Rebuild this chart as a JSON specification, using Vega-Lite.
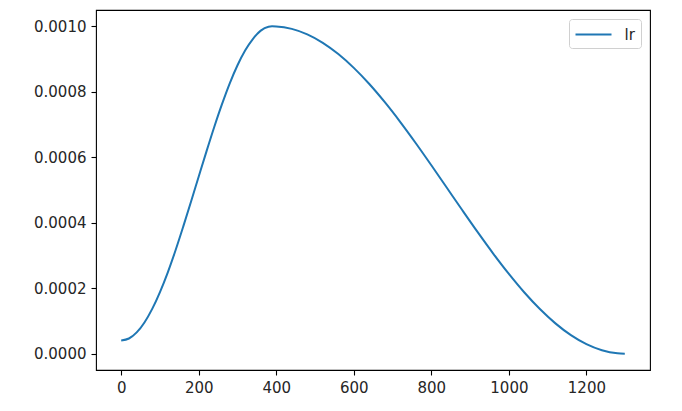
{
  "$schema": "https://vega.github.io/schema/vega-lite/v6.json",
  "width": 554,
  "height": 360,
  "autosize": {"type": "none"},
  "padding": {"left": 96, "top": 10, "right": 32, "bottom": 41},
  "background": "white",
  "config": {
    "view": {"stroke": "#000", "strokeWidth": 1.1},
    "axis": {
      "grid": false,
      "domain": false,
      "tickColor": "#000",
      "tickSize": 5,
      "tickWidth": 1.1,
      "labelFont": "DejaVu Sans",
      "labelFontSize": 15,
      "labelColor": "#262626",
      "labelPadding": 5,
      "title": null
    }
  },
  "data": {
    "values": [
      {"step": 0, "lr": 0.00004000, "series": "lr"},
      {"step": 20, "lr": 0.00004625, "series": "lr"},
      {"step": 40, "lr": 0.00006483, "series": "lr"},
      {"step": 60, "lr": 0.00009526, "series": "lr"},
      {"step": 80, "lr": 0.00013677, "series": "lr"},
      {"step": 100, "lr": 0.00018819, "series": "lr"},
      {"step": 120, "lr": 0.00024783, "series": "lr"},
      {"step": 140, "lr": 0.00031502, "series": "lr"},
      {"step": 160, "lr": 0.00038802, "series": "lr"},
      {"step": 180, "lr": 0.00046393, "series": "lr"},
      {"step": 200, "lr": 0.00054132, "series": "lr"},
      {"step": 220, "lr": 0.00061813, "series": "lr"},
      {"step": 240, "lr": 0.00069256, "series": "lr"},
      {"step": 260, "lr": 0.00076224, "series": "lr"},
      {"step": 280, "lr": 0.00082597, "series": "lr"},
      {"step": 300, "lr": 0.00088123, "series": "lr"},
      {"step": 320, "lr": 0.00092702, "series": "lr"},
      {"step": 340, "lr": 0.00096213, "series": "lr"},
      {"step": 360, "lr": 0.00098688, "series": "lr"},
      {"step": 380, "lr": 0.00099873, "series": "lr"},
      {"step": 389, "lr": 0.00100000, "series": "lr"},
      {"step": 400, "lr": 0.00099964, "series": "lr"},
      {"step": 440, "lr": 0.00099227, "series": "lr"},
      {"step": 480, "lr": 0.00097553, "series": "lr"},
      {"step": 520, "lr": 0.00094974, "series": "lr"},
      {"step": 560, "lr": 0.00091535, "series": "lr"},
      {"step": 600, "lr": 0.00087310, "series": "lr"},
      {"step": 640, "lr": 0.00082380, "series": "lr"},
      {"step": 680, "lr": 0.00076821, "series": "lr"},
      {"step": 720, "lr": 0.00070757, "series": "lr"},
      {"step": 760, "lr": 0.00064295, "series": "lr"},
      {"step": 800, "lr": 0.00057563, "series": "lr"},
      {"step": 840, "lr": 0.00050691, "series": "lr"},
      {"step": 880, "lr": 0.00043803, "series": "lr"},
      {"step": 920, "lr": 0.00037032, "series": "lr"},
      {"step": 960, "lr": 0.00030508, "series": "lr"},
      {"step": 1000, "lr": 0.00024358, "series": "lr"},
      {"step": 1040, "lr": 0.00018684, "series": "lr"},
      {"step": 1080, "lr": 0.00013623, "series": "lr"},
      {"step": 1120, "lr": 0.00009247, "series": "lr"},
      {"step": 1160, "lr": 0.00005646, "series": "lr"},
      {"step": 1200, "lr": 0.00002892, "series": "lr"},
      {"step": 1240, "lr": 0.00001034, "series": "lr"},
      {"step": 1280, "lr": 0.00000108, "series": "lr"},
      {"step": 1299, "lr": 0.000000004, "series": "lr"}
    ]
  },
  "mark": {"type": "line", "strokeWidth": 2, "interpolate": "monotone", "clip": true},
  "encoding": {
    "x": {
      "field": "step",
      "type": "quantitative",
      "scale": {"domain": [-65, 1364], "nice": false, "zero": false},
      "axis": {"values": [0, 200, 400, 600, 800, 1000, 1200], "format": "d"}
    },
    "y": {
      "field": "lr",
      "type": "quantitative",
      "scale": {"domain": [-0.00005, 0.00105], "nice": false, "zero": false},
      "axis": {"values": [0, 0.0002, 0.0004, 0.0006, 0.0008, 0.001], "format": ".4f"}
    },
    "color": {
      "field": "series",
      "type": "nominal",
      "scale": {"range": ["#1f77b4"]},
      "legend": {
        "title": null,
        "orient": "top-right",
        "offset": 9,
        "fillColor": "white",
        "strokeColor": "#d0d0d0",
        "cornerRadius": 3,
        "padding": 5.5,
        "symbolType": "M-1,0H3",
        "symbolSize": 324,
        "symbolStrokeWidth": 2,
        "labelFont": "DejaVu Sans",
        "labelFontSize": 15,
        "labelColor": "#262626",
        "labelOffset": 30
      }
    }
  }
}
